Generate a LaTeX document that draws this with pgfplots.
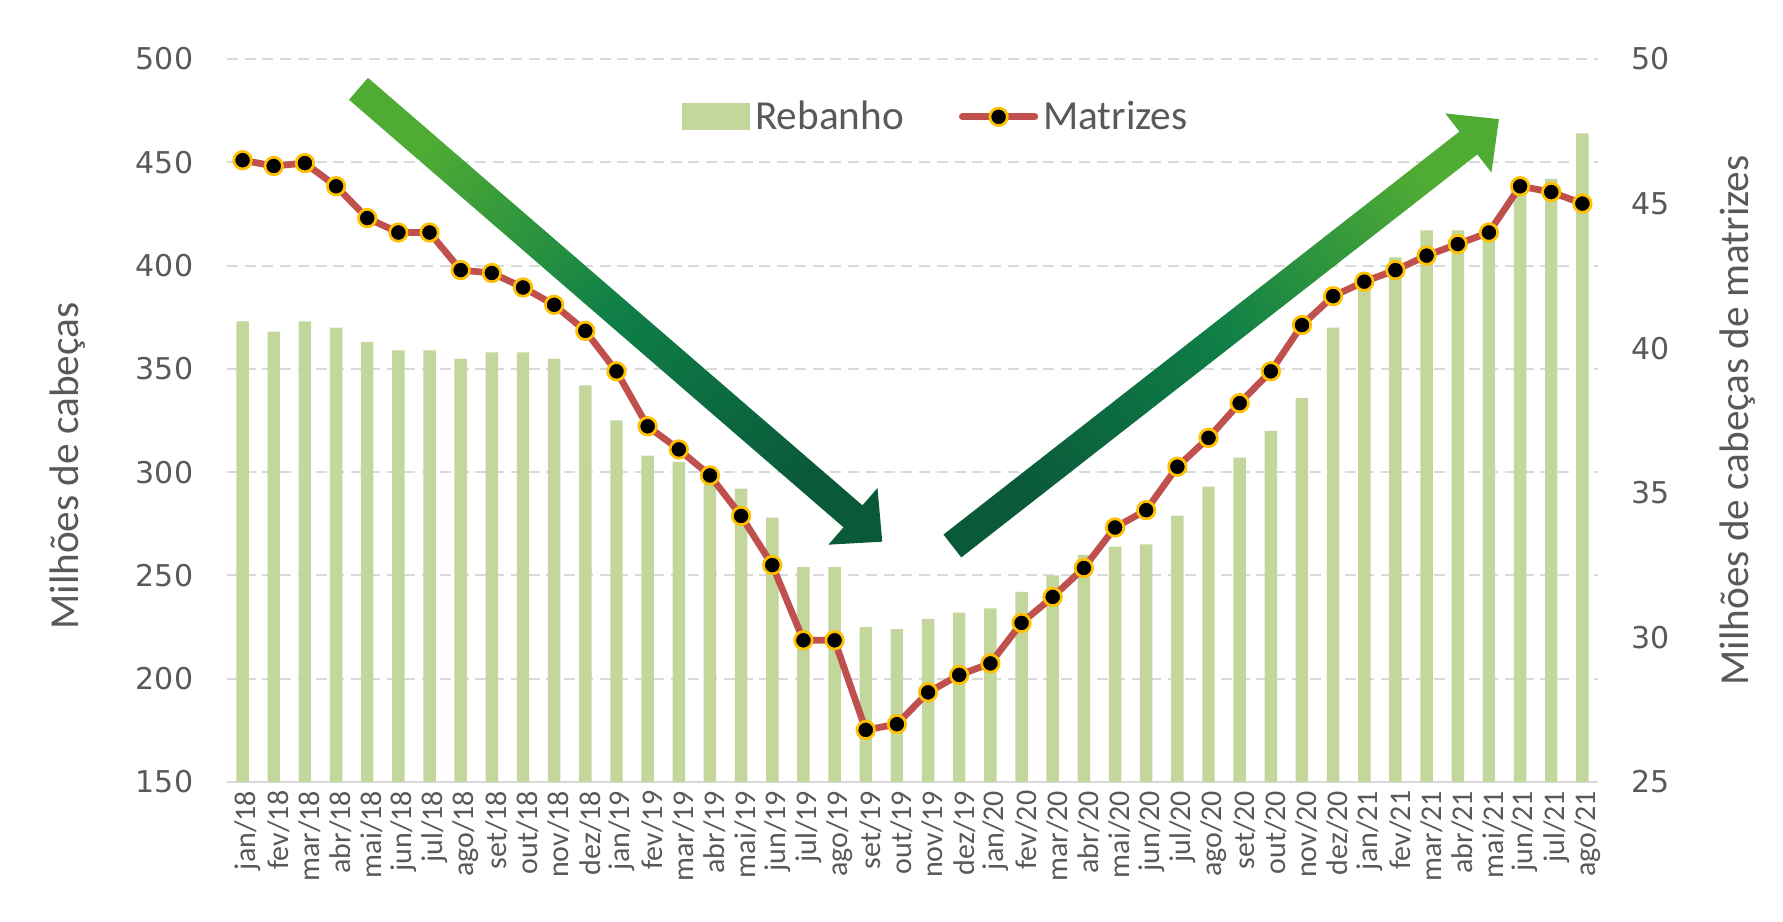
\documentclass[border=0pt]{standalone}
\usepackage{fontspec}
\setmainfont{Carlito}
\newfontfamily\dejavu{DejaVu Sans}
\usepackage{pgfplots}
\usepackage{pgfplotstable}
\pgfplotsset{compat=1.18}
\usetikzlibrary{calc}
\definecolor{barc}{HTML}{C3D69B}
\definecolor{linec}{HTML}{C0504D}
\definecolor{mkedge}{HTML}{FFC000}
\definecolor{txt}{HTML}{595959}
\definecolor{gridc}{HTML}{D9D9D9}
\definecolor{lg}{HTML}{4FAB34}
\definecolor{mg}{HTML}{0F7F47}
\definecolor{dg}{HTML}{0A5A3A}
\pgfplotsset{
  matleg/.style={legend image code/.code={\draw[mark repeat=2,mark phase=2,##1] plot coordinates {(0pt,0pt) (14.5pt,0pt) (29pt,0pt)};}},
  rebleg/.style={legend image code/.code={\fill[barc] (0pt,-5.2pt) rectangle (27pt,5.2pt);}},
}
\pgfplotstableread{
x reb mat
0 373 46.5
1 368 46.3
2 373 46.4
3 370 45.6
4 363 44.5
5 359 44.0
6 359 44.0
7 355 42.7
8 358 42.6
9 358 42.1
10 355 41.5
11 342 40.6
12 325 39.2
13 308 37.3
14 305 36.5
15 302 35.6
16 292 34.2
17 278 32.5
18 254 29.9
19 254 29.9
20 225 26.8
21 224 27.0
22 229 28.1
23 232 28.7
24 234 29.1
25 242 30.5
26 250 31.4
27 260 32.4
28 264 33.8
29 265 34.4
30 279 35.9
31 293 36.9
32 307 38.1
33 320 39.2
34 336 40.8
35 370 41.8
36 392 42.3
37 404 42.7
38 417 43.2
39 417 43.6
40 418 44.0
41 440 45.6
42 442 45.4
43 464 45.0
}\data
\begin{document}
\begin{tikzpicture}
\begin{axis}[
  scale only axis, width=548.4pt, height=289.2pt,
  xmin=-0.5, xmax=43.5, ymin=150, ymax=500,
  ytick={150,200,...,500},
  xtick={0,...,43},
  xticklabels={jan/18,fev/18,mar/18,abr/18,mai/18,jun/18,jul/18,ago/18,set/18,out/18,nov/18,dez/18,jan/19,fev/19,mar/19,abr/19,mai/19,jun/19,jul/19,ago/19,set/19,out/19,nov/19,dez/19,jan/20,fev/20,mar/20,abr/20,mai/20,jun/20,jul/20,ago/20,set/20,out/20,nov/20,dez/20,jan/21,fev/21,mar/21,abr/21,mai/21,jun/21,jul/21,ago/21},
  axis x line*=bottom, axis y line*=left,
  y axis line style={draw=none},
  x axis line style={draw=gridc, line width=1pt},
  major tick length=0pt,
  ymajorgrids,
  grid style={draw=gridc, line width=0.8pt, dash pattern=on 4.4pt off 2.7pt},
  /pgf/number format/assume math mode=true,
  yticklabel style={font=\dejavu\fontsize{12}{14}\selectfont, text=txt, xshift=-10pt},
  xticklabel style={font=\fontsize{12}{13}\selectfont, text=txt, rotate=90, anchor=east, yshift=-2pt},
  ylabel={Milhões de cabeças},
  ylabel style={at={(axis description cs:-0.116,0.437)}, anchor=center, font=\fontsize{16.5}{18}\selectfont, text=txt},
]
\addplot[ybar, bar width=0.4, fill=barc, draw=none] table[x=x,y=reb]{\data};
\end{axis}
\begin{axis}[
  scale only axis, width=548.4pt, height=289.2pt,
  xmin=-0.5, xmax=43.5, ymin=25, ymax=50,
  ytick={25,30,...,50},
  axis x line=none, axis y line*=right,
  y axis line style={draw=none},
  major tick length=0pt,
  /pgf/number format/assume math mode=true,
  yticklabel style={font=\dejavu\fontsize{12}{14}\selectfont, text=txt, xshift=10pt},
  ylabel={Milhões de cabeças de matrizes},
  ylabel style={at={(axis description cs:1.102,0.5)}, anchor=center, rotate=0, font=\fontsize{16.5}{18}\selectfont, text=txt},
  legend style={at={(axis description cs:0.518,0.92)}, anchor=center, draw=none, fill=none,
    legend columns=2, font=\fontsize{16.5}{18}\selectfont, text=txt,
    /tikz/every even column/.append style={column sep=20pt}},
  legend cell align=left,
]
\addlegendimage{rebleg}
\addlegendentry{Rebanho}
\addplot[linec, line width=2.7pt, line join=round, line cap=round, mark=*, mark size=3.5pt,
  mark options={fill=black, draw=mkedge, line width=1.1pt}, matleg]
  table[x=x,y=mat]{\data};
\addlegendentry{Matrizes}
\coordinate (A1) at (axis cs:3.72,48.97);
\coordinate (T1) at (axis cs:20.53,33.31);
\coordinate (A2) at (axis cs:22.78,33.16);
\coordinate (T2) at (axis cs:40.32,47.92);
\end{axis}
\coordinate (H1) at ($(T1)!15.5pt!(A1)$);
\coordinate (H2) at ($(T2)!15.5pt!(A2)$);
\shade[top color=lg, bottom color=dg, middle color=mg, shading angle=49]
  ($(A1)!5.8pt!90:(T1)$) -- ($(H1)!5.8pt!90:(T1)$) -- ($(H1)!15pt!90:(T1)$) -- (T1)
  -- ($(H1)!15pt!-90:(T1)$) -- ($(H1)!5.8pt!-90:(T1)$) -- ($(A1)!5.8pt!-90:(T1)$) -- cycle;
\shade[top color=lg, bottom color=dg, middle color=mg, shading angle=-52]
  ($(A2)!5.8pt!90:(T2)$) -- ($(H2)!5.8pt!90:(T2)$) -- ($(H2)!15pt!90:(T2)$) -- (T2)
  -- ($(H2)!15pt!-90:(T2)$) -- ($(H2)!5.8pt!-90:(T2)$) -- ($(A2)!5.8pt!-90:(T2)$) -- cycle;
\pgfresetboundingbox
\path (-90.8pt,-56pt) rectangle (622.4pt,312.8pt);
\end{tikzpicture}
\end{document}
